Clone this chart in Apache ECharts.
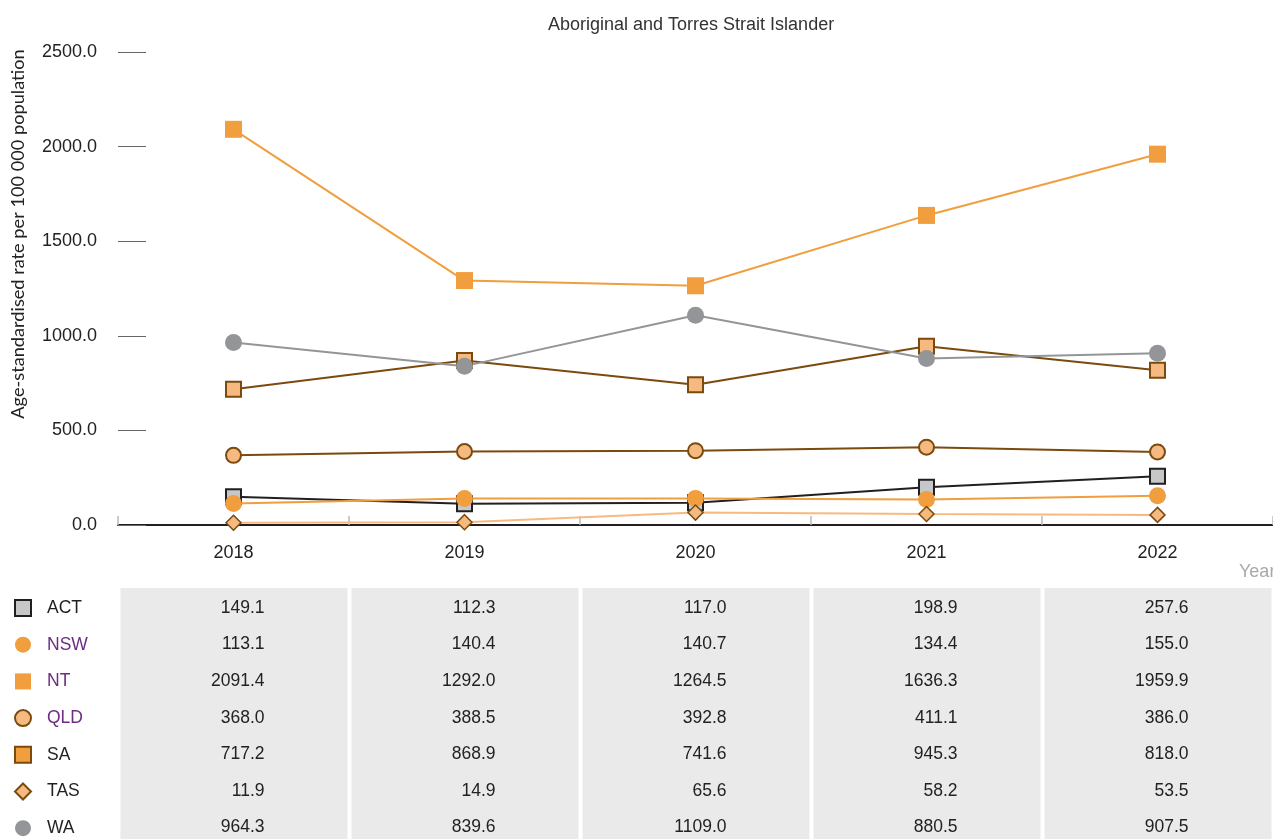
<!DOCTYPE html>
<html>
<head>
<meta charset="utf-8">
<title>Aboriginal and Torres Strait Islander</title>
<script src="https://cdn.jsdelivr.net/npm/echarts@6/dist/echarts.min.js"></script>
<style>
    html, body { margin: 0; padding: 0; background: #fff; }
    #chart { width: 1273px; height: 839px; }
</style>
</head>
<body>
<div id="chart"></div>
<script>
// years on the x axis
var years = ['2018', '2019', '2020', '2021', '2022'];
var states = ['ACT', 'NSW', 'NT', 'QLD', 'SA', 'TAS', 'WA'];

// age-standardised rate per 100 000 population
var act = [149.1, 112.3, 117.0, 198.9, 257.6];
var nsw = [113.1, 140.4, 140.7, 134.4, 155.0];
var nt = [2091.4, 1292.0, 1264.5, 1636.3, 1959.9];
var qld = [368.0, 388.5, 392.8, 411.1, 386.0];
var sa = [717.2, 868.9, 741.6, 945.3, 818.0];
var tas = [11.9, 14.9, 65.6, 58.2, 53.5];
var wa = [964.3, 839.6, 1109.0, 880.5, 907.5];

var yTicks = [0, 500, 1000, 1500, 2000, 2500];

var values = [act, nsw, nt, qld, sa, tas, wa];

var brown = '#7A4A0E';
var orange = '#F09E3E';
var light = '#F6BA80';
var purple = '#6B2D84';

// symbol / colour per state
var looks = [
    {symbol: 'rect', size: 15, line: '#231F20', fill: '#C6C7C9', border: '#231F20', bw: 2, text: '#231F20'},
    {symbol: 'circle', size: 17, line: orange, fill: orange, border: orange, bw: 0, text: purple},
    {symbol: 'rect', size: 17, line: orange, fill: orange, border: orange, bw: 0, text: purple},
    {symbol: 'circle', size: 15, line: brown, fill: light, border: brown, bw: 2, text: purple},
    {symbol: 'rect', size: 15, line: brown, fill: light, border: brown, bw: 2, text: '#231F20', legendFill: orange},
    {symbol: 'diamond', size: 15, line: light, fill: light, border: brown, bw: 1.5, text: '#231F20'},
    {symbol: 'circle', size: 17, line: '#939598', fill: '#939598', border: '#939598', bw: 0, text: '#231F20'}
];

var myChart = echarts.init(document.getElementById('chart'));

var series = states.map(function (s, i) {
    var l = looks[i];
    return {
        name: s,
        type: 'line',
        data: values[i],
        symbol: l.symbol,
        symbolSize: l.size,
        showAllSymbol: true,
        lineStyle: {color: l.line, width: 2},
        itemStyle: {color: l.fill, borderColor: l.border, borderWidth: l.bw},
        emphasis: {disabled: true},
        z: 3
    };
});

var legendData = states.map(function (s, i) {
    var l = looks[i];
    var item = {
        name: s,
        icon: l.symbol,
        textStyle: {color: l.text}
    };
    if (l.legendFill) {
        item.itemStyle = {color: l.legendFill};
    }
    return item;
});

var option = {
    animation: false,
    title: {
        text: 'Aboriginal and Torres Strait Islander',
        left: 543,
        top: 11,
        textStyle: {
            fontFamily: 'Liberation Sans',
            fontSize: 18,
            fontWeight: 'normal',
            color: '#333'
        }
    },
    tooltip: {show: false},
    legend: {
        orient: 'vertical',
        left: 14,
        top: 599,
        height: 260,
        padding: 0,
        itemWidth: 16,
        itemHeight: 16,
        itemGap: 18.7,
        selectedMode: false,
        data: legendData,
        textStyle: {
            fontFamily: 'Liberation Sans',
            fontSize: 17.5,
            lineHeight: 16,
            padding: [0, 0, 0, 11]
        }
    },
    grid: {
        left: 118,
        top: 52,
        width: 1157,
        height: 473
    },
    xAxis: {
        type: 'category',
        data: years,
        boundaryGap: true,
        axisLine: {lineStyle: {color: '#231F20', width: 2}},
        axisTick: {
            show: true,
            inside: true,
            length: 9,
            lineStyle: {color: '#BBBBBB', width: 1.5}
        },
        axisLabel: {
            margin: 19,
            color: '#222',
            fontFamily: 'Liberation Sans',
            fontSize: 18
        },
        splitLine: {show: false}
    },
    yAxis: {
        type: 'value',
        min: yTicks[0],
        max: yTicks[yTicks.length - 1],
        interval: yTicks[1] - yTicks[0],
        axisLine: {show: false},
        axisTick: {
            show: true,
            inside: true,
            length: 28,
            lineStyle: {color: '#666', width: 1}
        },
        axisLabel: {
            margin: 21,
            color: '#222',
            fontFamily: 'Liberation Sans',
            fontSize: 18,
            formatter: function (v) {
                return v.toFixed(1);
            }
        },
        splitLine: {show: false}
    },
    series: series
};

myChart.setOption(option);

// data table under the chart, placed with the x axis scale
function drawTable() {
    var centers = years.map(function (y) {
        return myChart.convertToPixel({xAxisIndex: 0}, y);
    });
    var band = centers[1] - centers[0];
    var elements = [];
    var tableTop = 588;
    var rowH = 36.6;

    centers.forEach(function (cx) {
        elements.push({
            type: 'rect',
            shape: {x: cx - band / 2 + 2.5, y: tableTop, width: band - 4, height: 839 - tableTop},
            style: {fill: '#EAEAEA'},
            silent: true,
            z: 0
        });
    });

    values.forEach(function (row, r) {
        row.forEach(function (v, c) {
            elements.push({
                type: 'text',
                x: centers[c] + 31,
                y: 608 + r * rowH,
                style: {
                    text: v.toFixed(1),
                    align: 'right',
                    verticalAlign: 'middle',
                    fontFamily: 'Liberation Sans',
                    fontSize: 17.5,
                    fill: '#222'
                },
                silent: true,
                z: 1
            });
        });
    });

    // axis titles
    elements.push({
        type: 'text',
        x: 18,
        y: 234,
        rotation: Math.PI / 2,
        style: {
            text: 'Age-standardised rate per 100 000 population',
            align: 'center',
            verticalAlign: 'middle',
            fontFamily: 'Lato',
            fontSize: 18.2,
            fill: '#222'
        },
        silent: true
    });
    elements.push({
        type: 'text',
        x: 1239,
        y: 572,
        style: {
            text: 'Year',
            align: 'left',
            verticalAlign: 'middle',
            fontFamily: 'Liberation Sans',
            fontSize: 18,
            fill: '#A7A9AC'
        },
        silent: true
    });

    myChart.setOption({graphic: {elements: elements}});
}

drawTable();
</script>
</body>
</html>
